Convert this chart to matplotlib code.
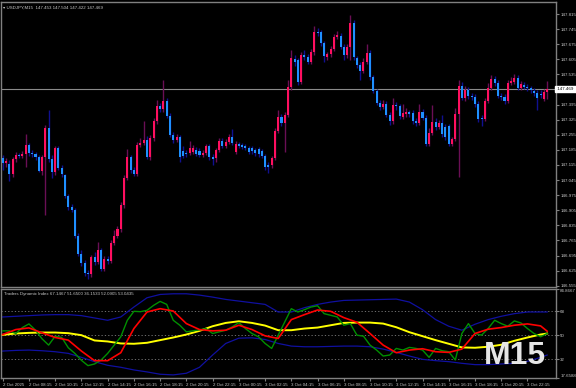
import matplotlib
matplotlib.use("Agg")
import matplotlib.pyplot as plt
import numpy as np

# ---- price data, USDJPY M15 (bar 0 = 2 Oct 06:15) ----
opens = [147.147, 147.124, 147.119, 147.073, 147.142, 147.161, 147.156, 147.165, 147.207, 147.170,
         147.165, 147.152, 147.087, 147.152, 147.286, 147.142, 147.082, 147.193, 147.100, 147.068,
         146.971, 146.920, 146.906, 146.785, 146.701, 146.660, 146.613, 146.609, 146.688, 146.664,
         146.720, 146.632, 146.678, 146.669, 146.752, 146.785, 146.817, 146.929, 147.054, 147.152,
         147.091, 147.073, 147.207, 147.216, 147.230, 147.152, 147.240, 147.319, 147.388, 147.374,
         147.411, 147.342, 147.254, 147.230, 147.244, 147.179, 147.170, 147.170, 147.175, 147.184,
         147.179, 147.161, 147.170, 147.203, 147.152, 147.147, 147.184, 147.226, 147.203, 147.221,
         147.244, 147.175, 147.212, 147.207, 147.203, 147.193, 147.193, 147.184, 147.189, 147.179,
         147.156, 147.114, 147.114, 147.147, 147.272, 147.337, 147.309, 147.346, 147.476, 147.606,
         147.602, 147.500, 147.625, 147.616, 147.592, 147.639, 147.732, 147.732, 147.680, 147.616,
         147.629, 147.653, 147.708, 147.713, 147.662, 147.625, 147.662, 147.773, 147.611, 147.578,
         147.551, 147.592, 147.634, 147.523, 147.458, 147.402, 147.384, 147.397, 147.346, 147.319,
         147.393, 147.388, 147.337, 147.351, 147.360, 147.356, 147.319, 147.309, 147.360, 147.332,
         147.212, 147.263, 147.314, 147.291, 147.309, 147.291, 147.295, 147.212, 147.235, 147.351,
         147.481, 147.425, 147.462, 147.435, 147.430, 147.397, 147.332, 147.328, 147.411, 147.472,
         147.513, 147.495, 147.435, 147.430, 147.411, 147.495, 147.500, 147.518, 147.472, 147.486,
         147.476, 147.472, 147.458, 147.448, 147.444, 147.421, 147.453]
closes = [147.124, 147.133, 147.073, 147.142, 147.161, 147.156, 147.165, 147.207, 147.170, 147.165,
          147.152, 147.087, 147.152, 147.286, 147.142, 147.082, 147.193, 147.100, 147.073, 146.971,
          146.920, 146.906, 146.785, 146.701, 146.660, 146.613, 146.609, 146.688, 146.664, 146.720,
          146.632, 146.678, 146.669, 146.752, 146.785, 146.817, 146.929, 147.054, 147.152, 147.091,
          147.073, 147.207, 147.216, 147.230, 147.152, 147.240, 147.319, 147.388, 147.374, 147.411,
          147.342, 147.254, 147.230, 147.244, 147.152, 147.156, 147.165, 147.193, 147.193, 147.165,
          147.161, 147.170, 147.203, 147.152, 147.142, 147.184, 147.226, 147.203, 147.221, 147.244,
          147.216, 147.212, 147.203, 147.198, 147.193, 147.175, 147.179, 147.170, 147.165, 147.156,
          147.105, 147.105, 147.147, 147.272, 147.337, 147.309, 147.346, 147.476, 147.611, 147.592,
          147.500, 147.625, 147.616, 147.592, 147.639, 147.732, 147.727, 147.680, 147.620, 147.629,
          147.653, 147.708, 147.718, 147.662, 147.625, 147.662, 147.773, 147.616, 147.578, 147.551,
          147.592, 147.634, 147.523, 147.458, 147.402, 147.384, 147.397, 147.346, 147.319, 147.393,
          147.388, 147.342, 147.356, 147.360, 147.351, 147.319, 147.309, 147.360, 147.332, 147.212,
          147.263, 147.314, 147.291, 147.309, 147.258, 147.244, 147.212, 147.235, 147.351, 147.481,
          147.425, 147.462, 147.435, 147.430, 147.397, 147.328, 147.328, 147.411, 147.472, 147.513,
          147.495, 147.435, 147.430, 147.411, 147.495, 147.504, 147.518, 147.472, 147.490, 147.476,
          147.472, 147.462, 147.448, 147.425, 147.439, 147.453, 147.469]
highs = [147.161, 147.147, 147.138, 147.152, 147.175, 147.170, 147.179, 147.258, 147.216, 147.184,
         147.175, 147.161, 147.161, 147.300, 147.370, 147.161, 147.203, 147.203, 147.114, 147.073,
         146.980, 146.934, 146.915, 146.799, 146.720, 146.674, 146.628, 146.697, 146.711, 146.757,
         146.729, 146.692, 146.692, 146.766, 146.813, 146.832, 146.943, 147.068, 147.189, 147.161,
         147.105, 147.221, 147.240, 147.319, 147.249, 147.254, 147.332, 147.416, 147.402, 147.509,
         147.425, 147.356, 147.268, 147.258, 147.254, 147.203, 147.184, 147.226, 147.207, 147.198,
         147.193, 147.184, 147.212, 147.212, 147.165, 147.193, 147.240, 147.240, 147.235, 147.258,
         147.281, 147.226, 147.221, 147.216, 147.212, 147.203, 147.203, 147.193, 147.198, 147.189,
         147.165, 147.128, 147.156, 147.286, 147.370, 147.351, 147.360, 147.509, 147.648, 147.625,
         147.611, 147.639, 147.648, 147.629, 147.653, 147.759, 147.750, 147.741, 147.690, 147.639,
         147.667, 147.722, 147.736, 147.727, 147.676, 147.676, 147.810, 147.787, 147.620, 147.592,
         147.611, 147.676, 147.648, 147.532, 147.467, 147.416, 147.416, 147.411, 147.360, 147.425,
         147.407, 147.397, 147.397, 147.379, 147.370, 147.370, 147.332, 147.397, 147.374, 147.346,
         147.286, 147.393, 147.332, 147.323, 147.346, 147.305, 147.305, 147.244, 147.379, 147.509,
         147.500, 147.481, 147.476, 147.448, 147.444, 147.411, 147.346, 147.425, 147.495, 147.532,
         147.527, 147.509, 147.448, 147.444, 147.509, 147.523, 147.537, 147.532, 147.504, 147.500,
         147.490, 147.481, 147.472, 147.462, 147.462, 147.467, 147.504]
lows = [147.091, 147.105, 147.040, 147.059, 147.128, 147.147, 147.147, 147.105, 147.156, 147.152,
        147.138, 147.082, 147.068, 146.882, 147.128, 147.054, 147.068, 147.091, 147.059, 146.962,
        146.906, 146.896, 146.776, 146.692, 146.646, 146.600, 146.585, 146.595, 146.651, 146.655,
        146.623, 146.623, 146.655, 146.660, 146.743, 146.776, 146.804, 146.915, 147.045, 147.077,
        147.063, 147.063, 147.198, 147.207, 147.142, 147.138, 147.226, 147.305, 147.360, 147.360,
        147.332, 147.244, 147.216, 147.221, 147.128, 147.147, 147.152, 147.161, 147.165, 147.156,
        147.152, 147.152, 147.161, 147.138, 147.114, 147.128, 147.175, 147.193, 147.193, 147.212,
        147.207, 147.165, 147.193, 147.189, 147.184, 147.165, 147.165, 147.156, 147.152, 147.147,
        147.091, 147.077, 147.100, 147.138, 147.263, 147.295, 147.175, 147.337, 147.462, 147.574,
        147.486, 147.490, 147.602, 147.583, 147.583, 147.625, 147.713, 147.667, 147.592, 147.602,
        147.616, 147.644, 147.699, 147.653, 147.602, 147.611, 147.602, 147.602, 147.565, 147.509,
        147.541, 147.583, 147.509, 147.448, 147.393, 147.370, 147.374, 147.337, 147.300, 147.305,
        147.370, 147.328, 147.328, 147.337, 147.337, 147.305, 147.295, 147.300, 147.323, 147.203,
        147.203, 147.254, 147.277, 147.281, 147.244, 147.230, 147.203, 147.203, 147.226, 147.059,
        147.416, 147.411, 147.421, 147.416, 147.384, 147.314, 147.295, 147.319, 147.402, 147.462,
        147.481, 147.425, 147.416, 147.397, 147.402, 147.486, 147.490, 147.462, 147.462, 147.467,
        147.458, 147.448, 147.435, 147.370, 147.425, 147.411, 147.421]

price_ticks = [146.555, 146.625, 146.695, 146.765, 146.835, 146.905, 146.975, 147.045, 147.115, 147.185,
               147.255, 147.325, 147.395, 147.535, 147.605, 147.675, 147.745, 147.815]
last_price = 147.469

time_labels = ["2 Oct 2025", "2 Oct 08:15", "2 Oct 10:15", "2 Oct 12:15", "2 Oct 14:15", "2 Oct 16:15",
               "2 Oct 18:15", "2 Oct 20:15", "2 Oct 22:15", "3 Oct 00:15", "3 Oct 02:15", "3 Oct 04:15",
               "3 Oct 06:15", "3 Oct 08:15", "3 Oct 10:15", "3 Oct 12:15", "3 Oct 14:15", "3 Oct 16:15",
               "3 Oct 18:15", "3 Oct 20:15", "3 Oct 22:15"]

# ---- Traders Dynamic Index, sampled every 4 bars (green every 2 bars) ----
tdi_bars = list(range(0, 165, 4)) + [166]
tdi_upper = [63.75, 64.25, 64.75, 65.25, 65.5, 65.5, 64.75, 63, 61.25, 63.75, 71.25, 78.25, 80.75, 81.25,
             81.25, 80.25, 78.75, 77, 75.75, 74.5, 73.25, 67.5, 67.5, 70.75, 73.25, 75, 76.25, 76.5,
             76.75, 77, 77.25, 75, 69.25, 61.75, 56.75, 53.75, 58.25, 61.75, 64.25, 66.25, 67.5, 67.5, 67.5]
tdi_lower = [38, 38.5, 38.75, 38.25, 37.5, 36.25, 33.25, 30, 27.25, 25.75, 23.75, 22.25, 20.5, 20,
             21.25, 25.75, 35, 43.75, 47.75, 48, 46.75, 43.75, 41.75, 41.25, 41.25, 41.5, 41.75, 41.75,
             41.25, 39.5, 37, 34.25, 31.75, 30.75, 30, 28.75, 27.75, 27.75, 28.25, 28.75, 30.25, 33.25, 35]
tdi_base = [50.25, 51.25, 51.75, 52, 52, 51.5, 50, 46, 45.25, 43.75, 43.5, 44.25, 46.25, 48.25,
            50.5, 53.25, 56.75, 59.25, 60.5, 59.25, 57.25, 53.75, 53.75, 55, 55.75, 57.5, 59.25, 59.5,
            59.5, 58.75, 56, 52.25, 49.25, 46.25, 43.5, 40.75, 40.5, 41.25, 42.75, 45.75, 48.25, 50.5, 51.25]
tdi_signal = [50.5, 54.25, 55.5, 51.75, 48.25, 46.25, 38, 30.75, 30.75, 36.75, 55, 67.5, 70, 68.25,
              58.75, 54.25, 53.25, 53.75, 57.5, 54.25, 49.5, 47.5, 61.75, 65.5, 69, 68, 63.25, 59.75,
              51.25, 42.5, 36.75, 38.75, 39.75, 37.5, 37, 39.5, 51.25, 54.5, 55.75, 57.5, 58.5, 57, 53]
rsi_bars = list(range(0, 167, 2))
tdi_rsi = [53.25, 53.25, 51.25, 55.75, 58.5, 53.75, 47.25, 42.5, 49.25, 48.25, 40.5, 36.25, 31, 27,
           28.25, 31.25, 36.25, 42.5, 48.75, 61.25, 68, 67.75, 68.75, 72.5, 75.5, 73.25, 61.25, 57.5,
           52.5, 53.25, 54, 55, 51.25, 52.5, 53.75, 56.25, 59.5, 55, 51.25, 48.75, 43.75, 40, 50,
           60, 70, 67.5, 69.25, 71.25, 72.25, 66.25, 65, 63.75, 57.5, 58.75, 50, 49.25, 42.5, 38.75,
           34.25, 35, 40, 38.75, 40.75, 40, 38.75, 33.25, 40, 38.25, 37.5, 31.25, 51.25, 58.75, 51.25,
           50, 55, 61.25, 58.75, 56.75, 60.75, 59.25, 55, 51.25, 48.75, 51.25]
tdi_levels = [68, 50, 32]
tdi_min, tdi_max = 17.6588, 84.8667

UP = '#ff0f5f'
DOWN = '#1e90ff'
UP_WICK = '#6a0f55'
DOWN_WICK = '#101090'
TXT = '#c8c8c8'
GRID = '#808080'
FS = 3.2
FONT = 'Liberation Sans'

fig = plt.figure(figsize=(5.76, 3.88), dpi=100, facecolor='black')
ax = fig.add_axes([1 / 576, 1 - 287 / 388, 555 / 576, 285 / 388], facecolor='black')
ax2 = fig.add_axes([1 / 576, 1 - 378 / 388, 555 / 576, 89 / 388], facecolor='black')

n = len(closes)
idx = np.arange(n)
o = np.array(opens)
c = np.array(closes)
up = c >= o
wick_cols = [UP_WICK if u else DOWN_WICK for u in up]
body_cols = [UP if u else DOWN for u in up]

ax.vlines(idx, lows, highs, colors=wick_cols, linewidth=1.0, zorder=2)
bottoms = np.minimum(o, c)
heights = np.maximum(np.abs(c - o), 0.0025)
ax.bar(idx, heights, bottom=bottoms, width=0.62, color=body_cols, linewidth=0, zorder=3)

ax.axhline(last_price, color='#8a8a8a', linewidth=0.8, zorder=1)

xl = (-0.52, 168.7)
ax.set_xlim(*xl)
ax.set_ylim(146.549, 147.871)
ax.set_xticks([])
ax.yaxis.tick_right()
ax.set_yticks(price_ticks)
ax.set_yticklabels([f"{p:.3f}" for p in price_ticks], family=FONT)
ax.tick_params(axis='y', colors=GRID, labelcolor=TXT, labelsize=FS, length=2, pad=1)
for s in ax.spines.values():
    s.set_color(GRID)
    s.set_linewidth(1)

ax.text(1.0, last_price, f" {last_price:.3f} ", transform=ax.get_yaxis_transform(),
        ha='left', va='center', fontsize=FS, family=FONT, color='black', clip_on=False,
        bbox=dict(boxstyle='square,pad=0.25', fc='white', ec='white'))
ax.text(0.004, 0.988, "\u25be USDJPY,M15  147.453 147.504 147.422 147.469", transform=ax.transAxes,
        ha='left', va='top', fontsize=FS, family=['Liberation Sans', 'DejaVu Sans'], color=TXT)

# indicator panel
ax2.plot(tdi_bars, tdi_upper, color='#1010a0', linewidth=0.9, zorder=2)
ax2.plot(tdi_bars, tdi_lower, color='#1010a0', linewidth=0.9, zorder=2)
ax2.plot(tdi_bars, tdi_base, color='#ffff00', linewidth=1.4, zorder=3)
ax2.plot(rsi_bars, tdi_rsi, color='#009000', linewidth=1.0, zorder=4)
ax2.plot(tdi_bars, tdi_signal, color='#ff0000', linewidth=1.2, zorder=5)
for lv in tdi_levels:
    ax2.axhline(lv, color=GRID, linewidth=0.6, linestyle=(0, (1.5, 2.5)), zorder=1)

ax2.set_xlim(*xl)
ax2.set_ylim(tdi_min, tdi_max)
ax2.yaxis.tick_right()
ax2.set_yticks([tdi_max] + tdi_levels + [tdi_min])
ax2.set_yticklabels([f"{tdi_max:.4f}"] + [str(v) for v in tdi_levels] + [f"{tdi_min:.4f}"], family=FONT)
ylabels = ax2.get_yticklabels()
ylabels[0].set_va('top')
ylabels[-1].set_va('bottom')
ax2.tick_params(axis='y', colors=GRID, labelcolor=TXT, labelsize=FS, length=2, pad=1)
ax2.set_xticks(np.arange(0, 8 * len(time_labels), 8))
ax2.set_xticklabels(time_labels, family=FONT)
for lbl in ax2.get_xticklabels():
    lbl.set_ha('left')
ax2.tick_params(axis='x', colors=GRID, labelcolor=TXT, labelsize=FS, length=2, pad=1.5)
for s in ax2.spines.values():
    s.set_color(GRID)
    s.set_linewidth(1)

ax2.text(0.005, 0.97, "Traders Dynamic Index 67.1467 51.6500 36.1533 52.0905 53.0435",
         transform=ax2.transAxes, ha='left', va='top', fontsize=FS, family=FONT, color=TXT)

fig.text(546 / 576, 1 - 356 / 388, "M15", ha='right', va='center', fontsize=23,
         fontweight='bold', family='Liberation Sans', color='#e6e6e6')

fig.savefig('out.png', dpi=100, facecolor='black')
